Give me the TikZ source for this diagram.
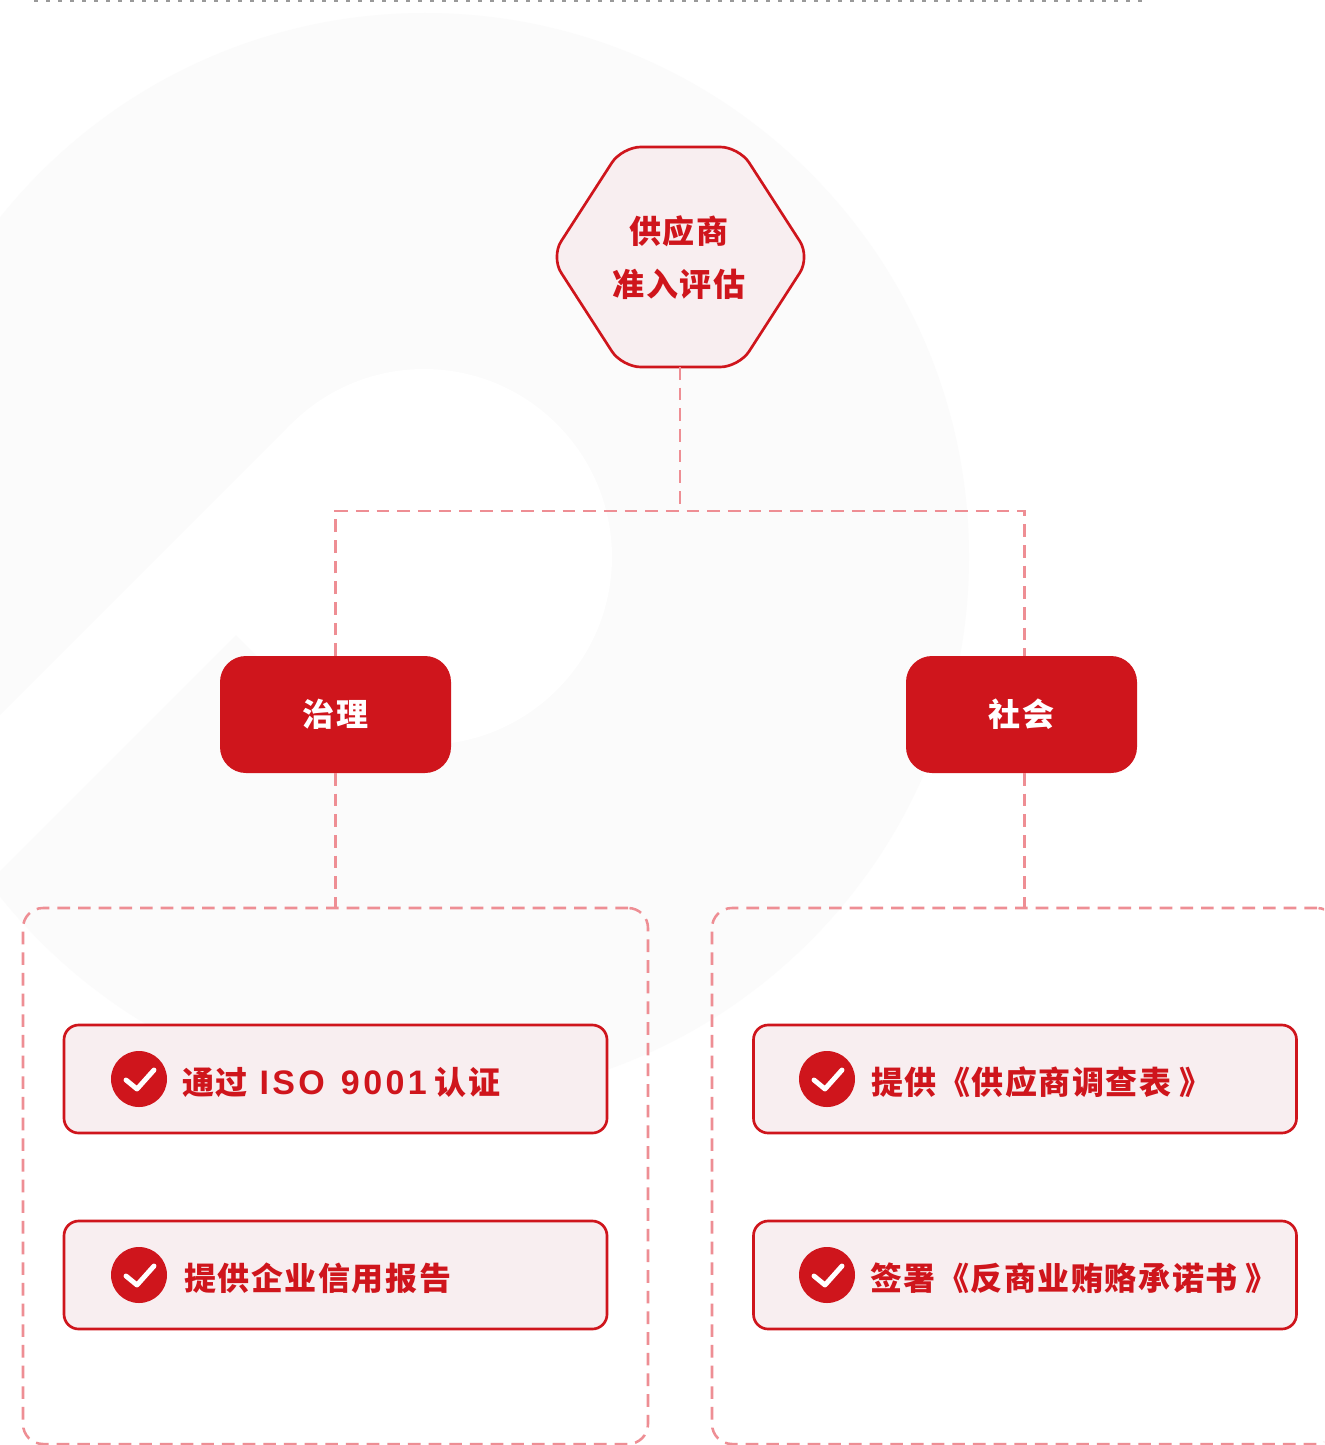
\documentclass[tikz,border=0pt]{standalone}
\usepackage{fontspec}
\newfontfamily\cjk[LetterSpace=5]{Noto Sans CJK SC}
\newfontfamily\latn[LetterSpace=10]{Liberation Sans}
\usetikzlibrary{calc}
\definecolor{brandred}{HTML}{CF151C}
\definecolor{softpink}{HTML}{F8EEF0}
\definecolor{dashpink}{HTML}{EE8E94}
\definecolor{ghost}{HTML}{FBFBFB}
\tikzset{
  x=0.75pt,y=-0.75pt,
  label font/.style={font=\cjk\bfseries\fontsize{24pt}{28pt}\selectfont},
  dashline/.style={draw=dashpink,line width=1.9pt,dash pattern=on 9.5pt off 6pt},
  headbox/.style={fill=brandred,rounded corners=19.5pt,minimum width=173.25pt,minimum height=87.75pt,inner sep=0pt,outer sep=0pt,text=white,label font},
  panelbox/.style={dashline,rounded corners=15pt,minimum width=468.75pt,minimum height=402pt,inner sep=0pt,outer sep=0pt},
  itembox/.style={draw=brandred,fill=softpink,line width=2pt,rounded corners=11pt,minimum width=407.25pt,minimum height=81pt,inner sep=0pt,outer sep=0pt},
  checkdot/.style={circle,fill=brandred,minimum size=42pt,inner sep=0pt,outer sep=0pt},
  checkmark/.style={draw=white,line width=3.7pt,line cap=round,line join=round},
  itemtext/.style={anchor=west,text=brandred,inner sep=0pt,outer sep=0pt,label font},
}
\newcommand{\tickat}[1]{\draw[checkmark] ($(#1)+(-13,1)$) -- ($(#1)+(-2,10)$) -- ($(#1)+(15,-9)$);}
\newcommand{\latin}[1]{{\latn\bfseries\fontsize{25.5pt}{28pt}\selectfont #1}}
\begin{document}
\begin{tikzpicture}
\useasboundingbox (0,0) rectangle (1324,1445);
\clip (0,0) rectangle (1324,1445);
\fill[white] (0,0) rectangle (1324,1445);
% faint logo in the background
\fill[ghost] (425,557) circle[radius=408pt];
\fill[white] (424,557) circle[radius=141pt];
\fill[white] (291,424) -- (0,715) -- (0,871) -- (236,635) -- (291,690) -- (424,557) -- cycle;
% cut-off line of text at the top edge
\draw[gray!80,line width=2pt,dash pattern=on 3pt off 6pt] (34,0.5) -- (1148,0.5);

% hexagon
\draw[draw=brandred,fill=softpink,line width=2pt,rounded corners=14pt]
  (551,257) -- (622,147) -- (739,147) -- (810,257) -- (739,367) -- (622,367) -- cycle;
\node[minimum width=186pt,minimum height=165pt,inner sep=0pt,outer sep=0pt] (hex) at (680,257) {};
\node[text=brandred,label font,inner sep=0pt] (hexa) at (679,231) {供应商};
\node[text=brandred,label font,inner sep=0pt] (hexb) at (679,284) {准入评估};

% dashed panels
\node[panelbox] (panelL) at (335.5,1176) {};
\node[panelbox] (panelR) at (1024.5,1176) {};

% heads
\node[headbox] (zhili) at (335.5,714.5) {治理};
\node[headbox] (shehui) at (1021.5,714.5) {社会};

% connectors
\coordinate (hub) at (hex.south |- 0,511);
\coordinate (busL) at (panelL.north |- 0,511);
\coordinate (busR) at (panelR.north |- 0,511);
\draw[dashline] (hex.south) -- (hub);
\draw[dashline] (zhili.north) -- (busL) -- (busR) -- (panelR.north |- shehui.north);
\draw[dashline] (zhili.south) -- (panelL.north);
\draw[dashline] (panelR.north |- shehui.south) -- (panelR.north);

% items, left
\node[itembox] (a1) at (335.5,1079) {};
\node[itembox] (a2) at (335.5,1275) {};
\node[checkdot] (ca1) at (139,1079) {};
\node[checkdot] (ca2) at (139,1275) {};
\tickat{ca1}
\tickat{ca2}
\node[itemtext] (ta1) at (182,1082) {通过\hspace{9pt}\latin{ISO}\hspace{12pt}\latin{9001}\hspace{6pt}认证};
\node[itemtext] (ta2) at (184,1278) {提供企业信用报告};

% items, right
\node[itembox] (b1) at (1025,1079) {};
\node[itembox] (b2) at (1025,1275) {};
\node[checkdot] (cb1) at (827,1079) {};
\node[checkdot] (cb2) at (827,1275) {};
\tickat{cb1}
\tickat{cb2}
\node[itemtext] (tb1) at (871,1082) {提供《\hspace{1pt}供应商调查表\hspace{6pt}》};
\node[itemtext] (tb2) at (870,1278) {签署《\hspace{1pt}反商业贿赂承诺书\hspace{6pt}》};
\end{tikzpicture}
\end{document}
